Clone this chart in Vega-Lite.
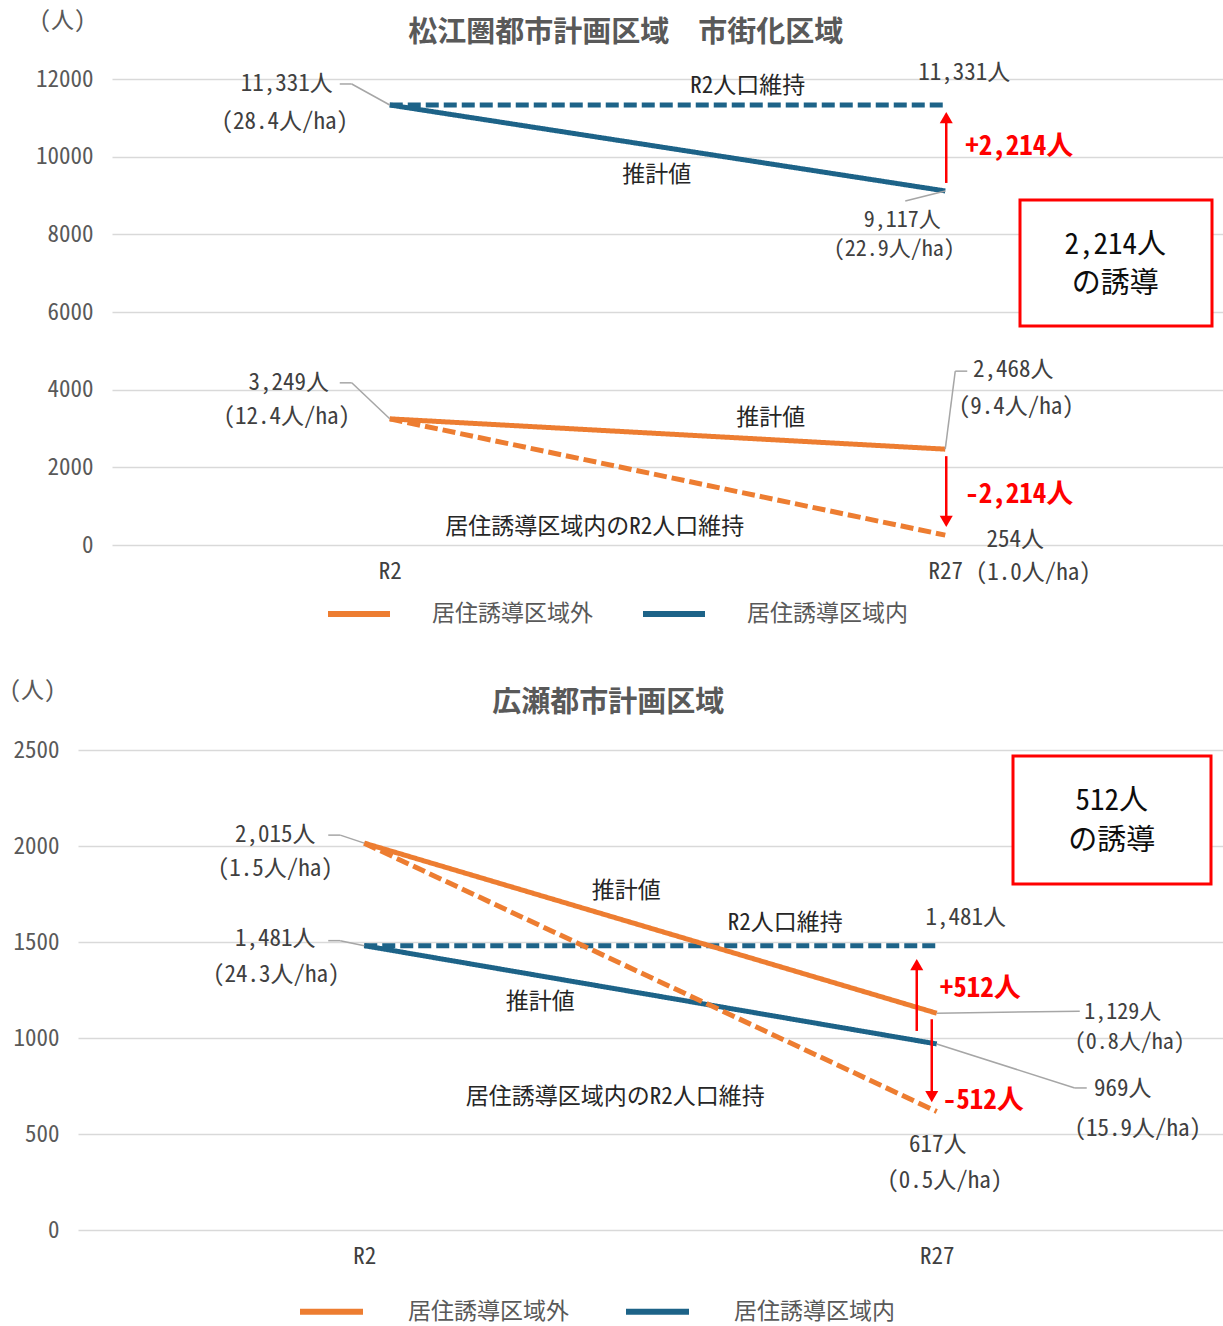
{
  "$schema": "https://vega.github.io/schema/vega-lite/v6.json",
  "background": "white",
  "padding": {"left": 9, "top": 9, "right": 0, "bottom": 10},
  "spacing": 53,
  "resolve": {"scale": {"color": "independent", "strokeDash": "independent"}, "legend": {"color": "independent", "strokeDash": "independent"}},
  "config": {
    "font": "Noto Sans CJK JP",
    "view": {"stroke": null},
    "text": {"font": "Noto Sans Mono CJK JP, Noto Sans CJK JP", "fontSize": 23, "color": "#404040"},
    "axis": {
      "labelFont": "Noto Sans Mono CJK JP, Noto Sans CJK JP",
      "titleFont": "Noto Sans Mono CJK JP, Noto Sans CJK JP",
      "labelFontSize": 23, "titleFontSize": 23,
      "labelColor": "#595959", "titleColor": "#595959", "titleFontWeight": "normal",
      "ticks": false, "domain": false, "gridColor": "#D9D9D9", "gridWidth": 1.5
    },
    "legend": {"labelFont": "Noto Sans Mono CJK JP, Noto Sans CJK JP", "labelFontSize": 23, "labelColor": "#595959", "labelLimit": 400}
  },
  "datasets": {
    "matsue": [
      {"zone": "居住誘導区域内", "scenario": "R2人口維持", "period": "R2", "value": 11331, "density": 28.4},
      {"zone": "居住誘導区域内", "scenario": "R2人口維持", "period": "R27", "value": 11331, "density": null},
      {"zone": "居住誘導区域内", "scenario": "推計値", "period": "R2", "value": 11331, "density": 28.4},
      {"zone": "居住誘導区域内", "scenario": "推計値", "period": "R27", "value": 9117, "density": 22.9},
      {"zone": "居住誘導区域外", "scenario": "R2人口維持", "period": "R2", "value": 3249, "density": 12.4},
      {"zone": "居住誘導区域外", "scenario": "R2人口維持", "period": "R27", "value": 254, "density": 1.0},
      {"zone": "居住誘導区域外", "scenario": "推計値", "period": "R2", "value": 3249, "density": 12.4},
      {"zone": "居住誘導区域外", "scenario": "推計値", "period": "R27", "value": 2468, "density": 9.4}
    ],
    "hirose": [
      {"zone": "居住誘導区域内", "scenario": "R2人口維持", "period": "R2", "value": 1481, "density": 24.3},
      {"zone": "居住誘導区域内", "scenario": "R2人口維持", "period": "R27", "value": 1481, "density": null},
      {"zone": "居住誘導区域内", "scenario": "推計値", "period": "R2", "value": 1481, "density": 24.3},
      {"zone": "居住誘導区域内", "scenario": "推計値", "period": "R27", "value": 969, "density": 15.9},
      {"zone": "居住誘導区域外", "scenario": "R2人口維持", "period": "R2", "value": 2015, "density": 1.5},
      {"zone": "居住誘導区域外", "scenario": "R2人口維持", "period": "R27", "value": 617, "density": 0.5},
      {"zone": "居住誘導区域外", "scenario": "推計値", "period": "R2", "value": 2015, "density": 1.5},
      {"zone": "居住誘導区域外", "scenario": "推計値", "period": "R27", "value": 1129, "density": 0.8}
    ]
  },
  "vconcat": [
    {
      "width": 1145,
      "height": 466,
      "data": {"name": "matsue"},
      "transform": [
        {"calculate": "format(datum.value, ',') + '人'", "as": "label"},
        {"calculate": "isValid(datum.density) ? '(' + format(datum.density, '.1f') + '人/ha)' : ''", "as": "dens"}
      ],
      "layer": [
        {
          "mark": {"type": "line", "strokeWidth": 5, "strokeCap": "butt"},
          "encoding": {
            "x": {"field": "period", "type": "ordinal",
                  "scale": {"type": "point", "domain": ["R2", "R27"], "padding": 0.5, "range": [34, 1145]},
                  "axis": {"title": null, "labelAngle": 0, "labelPadding": 15, "labelColor": "#404040", "grid": false}},
            "y": {"field": "value", "type": "quantitative",
                  "scale": {"domain": [0, 12000], "nice": false},
                  "axis": {"title": "(人)", "titleAngle": 0, "titleX": -50, "titleY": -59, "titleAlign": "center", "titleBaseline": "middle",
                           "values": [0, 2000, 4000, 6000, 8000, 10000, 12000], "format": "d", "offset": -34, "labelPadding": 19}},
            "color": {"field": "zone", "type": "nominal",
                      "scale": {"domain": ["居住誘導区域外", "居住誘導区域内"], "range": ["#ED7D31", "#1D6388"]},
                      "legend": {"title": null, "orient": "none", "legendX": 247, "legendY": 501, "direction": "horizontal",
                                 "symbolType": "stroke", "symbolSize": 3844, "symbolStrokeWidth": 6,
                                 "labelOffset": 39, "columnPadding": 38, "padding": 0}},
            "strokeDash": {"field": "scenario", "type": "nominal",
                           "scale": {"domain": ["推計値", "R2人口維持"], "range": [[1, 0], [13, 5]]}, "legend": null}
          }
        },
        {
          "data": {"values": [{}]},
          "mark": {"type": "text", "text": "松江圏都市計画区域　市街化区域", "dx": 236, "font": "Noto Sans CJK JP", "fontSize": 29, "fontWeight": "bold", "color": "#595959"},
          "encoding": {"x": {"datum": "R2", "type": "ordinal"}, "y": {"datum": 13185, "type": "quantitative"}}
        },
        {
          "transform": [{"filter": "datum.zone==='居住誘導区域内' && datum.scenario==='推計値' && datum.period==='R2'"}],
          "mark": {"type": "rule", "color": "#A6A6A6", "strokeWidth": 1.5, "x2Offset": -38, "y2Offset": -21},
          "encoding": {"x": {"field": "period", "type": "ordinal"}, "y": {"field": "value", "type": "quantitative"}, "x2": {"field": "period"}, "y2": {"field": "value"}}
        },
        {
          "transform": [{"filter": "datum.zone==='居住誘導区域内' && datum.scenario==='推計値' && datum.period==='R2'"}],
          "mark": {"type": "rule", "color": "#A6A6A6", "strokeWidth": 1.5, "xOffset": -38, "yOffset": -21, "x2Offset": -50, "y2Offset": -21},
          "encoding": {"x": {"field": "period", "type": "ordinal"}, "y": {"field": "value", "type": "quantitative"}, "x2": {"field": "period"}, "y2": {"field": "value"}}
        },
        {
          "transform": [{"filter": "datum.zone==='居住誘導区域内' && datum.scenario==='推計値' && datum.period==='R27'"}],
          "mark": {"type": "rule", "color": "#A6A6A6", "strokeWidth": 1.5, "x2Offset": -40, "y2Offset": 10},
          "encoding": {"x": {"field": "period", "type": "ordinal"}, "y": {"field": "value", "type": "quantitative"}, "x2": {"field": "period"}, "y2": {"field": "value"}}
        },
        {
          "transform": [{"filter": "datum.zone==='居住誘導区域外' && datum.scenario==='推計値' && datum.period==='R2'"}],
          "mark": {"type": "rule", "color": "#A6A6A6", "strokeWidth": 1.5, "x2Offset": -38, "y2Offset": -36},
          "encoding": {"x": {"field": "period", "type": "ordinal"}, "y": {"field": "value", "type": "quantitative"}, "x2": {"field": "period"}, "y2": {"field": "value"}}
        },
        {
          "transform": [{"filter": "datum.zone==='居住誘導区域外' && datum.scenario==='推計値' && datum.period==='R2'"}],
          "mark": {"type": "rule", "color": "#A6A6A6", "strokeWidth": 1.5, "xOffset": -38, "yOffset": -36, "x2Offset": -50, "y2Offset": -36},
          "encoding": {"x": {"field": "period", "type": "ordinal"}, "y": {"field": "value", "type": "quantitative"}, "x2": {"field": "period"}, "y2": {"field": "value"}}
        },
        {
          "transform": [{"filter": "datum.zone==='居住誘導区域外' && datum.scenario==='推計値' && datum.period==='R27'"}],
          "mark": {"type": "rule", "color": "#A6A6A6", "strokeWidth": 1.5, "x2Offset": 10, "y2Offset": -78},
          "encoding": {"x": {"field": "period", "type": "ordinal"}, "y": {"field": "value", "type": "quantitative"}, "x2": {"field": "period"}, "y2": {"field": "value"}}
        },
        {
          "transform": [{"filter": "datum.zone==='居住誘導区域外' && datum.scenario==='推計値' && datum.period==='R27'"}],
          "mark": {"type": "rule", "color": "#A6A6A6", "strokeWidth": 1.5, "xOffset": 10, "yOffset": -78, "x2Offset": 22, "y2Offset": -78},
          "encoding": {"x": {"field": "period", "type": "ordinal"}, "y": {"field": "value", "type": "quantitative"}, "x2": {"field": "period"}, "y2": {"field": "value"}}
        },
        {
          "transform": [{"filter": "datum.zone==='居住誘導区域内' && datum.scenario==='推計値' && datum.period==='R2'"}],
          "mark": {"type": "text", "dx": -103, "dy": -21},
          "encoding": {"x": {"field": "period", "type": "ordinal"}, "y": {"field": "value", "type": "quantitative"}, "text": {"field": "label"}}
        },
        {
          "transform": [{"filter": "datum.zone==='居住誘導区域内' && datum.scenario==='推計値' && datum.period==='R2'"}],
          "mark": {"type": "text", "dx": -105, "dy": 17},
          "encoding": {"x": {"field": "period", "type": "ordinal"}, "y": {"field": "value", "type": "quantitative"}, "text": {"field": "dens"}}
        },
        {
          "transform": [{"filter": "datum.zone==='居住誘導区域内' && datum.scenario==='R2人口維持' && datum.period==='R27'"}],
          "mark": {"type": "text", "dx": 19, "dy": -32},
          "encoding": {"x": {"field": "period", "type": "ordinal"}, "y": {"field": "value", "type": "quantitative"}, "text": {"field": "label"}}
        },
        {
          "transform": [{"filter": "datum.zone==='居住誘導区域内' && datum.scenario==='推計値' && datum.period==='R27'"}],
          "mark": {"type": "text", "dx": -43, "dy": 29, "fontSize": 22},
          "encoding": {"x": {"field": "period", "type": "ordinal"}, "y": {"field": "value", "type": "quantitative"}, "text": {"field": "label"}}
        },
        {
          "transform": [{"filter": "datum.zone==='居住誘導区域内' && datum.scenario==='推計値' && datum.period==='R27'"}],
          "mark": {"type": "text", "dx": -51, "dy": 58, "fontSize": 22},
          "encoding": {"x": {"field": "period", "type": "ordinal"}, "y": {"field": "value", "type": "quantitative"}, "text": {"field": "dens"}}
        },
        {
          "transform": [{"filter": "datum.zone==='居住誘導区域外' && datum.scenario==='推計値' && datum.period==='R2'"}],
          "mark": {"type": "text", "dx": -101, "dy": -36},
          "encoding": {"x": {"field": "period", "type": "ordinal"}, "y": {"field": "value", "type": "quantitative"}, "text": {"field": "label"}}
        },
        {
          "transform": [{"filter": "datum.zone==='居住誘導区域外' && datum.scenario==='推計値' && datum.period==='R2'"}],
          "mark": {"type": "text", "dx": -103, "dy": -2},
          "encoding": {"x": {"field": "period", "type": "ordinal"}, "y": {"field": "value", "type": "quantitative"}, "text": {"field": "dens"}}
        },
        {
          "transform": [{"filter": "datum.zone==='居住誘導区域外' && datum.scenario==='推計値' && datum.period==='R27'"}],
          "mark": {"type": "text", "dx": 68, "dy": -79},
          "encoding": {"x": {"field": "period", "type": "ordinal"}, "y": {"field": "value", "type": "quantitative"}, "text": {"field": "label"}}
        },
        {
          "transform": [{"filter": "datum.zone==='居住誘導区域外' && datum.scenario==='推計値' && datum.period==='R27'"}],
          "mark": {"type": "text", "dx": 71, "dy": -42},
          "encoding": {"x": {"field": "period", "type": "ordinal"}, "y": {"field": "value", "type": "quantitative"}, "text": {"field": "dens"}}
        },
        {
          "transform": [{"filter": "datum.zone==='居住誘導区域外' && datum.scenario==='R2人口維持' && datum.period==='R27'"}],
          "mark": {"type": "text", "dx": 70, "dy": 5},
          "encoding": {"x": {"field": "period", "type": "ordinal"}, "y": {"field": "value", "type": "quantitative"}, "text": {"field": "label"}}
        },
        {
          "transform": [{"filter": "datum.zone==='居住誘導区域外' && datum.scenario==='R2人口維持' && datum.period==='R27'"}],
          "mark": {"type": "text", "dx": 88, "dy": 38},
          "encoding": {"x": {"field": "period", "type": "ordinal"}, "y": {"field": "value", "type": "quantitative"}, "text": {"field": "dens"}}
        },
        {
          "data": {"values": [{}]},
          "mark": {"type": "text", "text": "R2人口維持", "dx": 358, "color": "#262626"},
          "encoding": {"x": {"datum": "R2", "type": "ordinal"}, "y": {"datum": 11820, "type": "quantitative"}}
        },
        {
          "data": {"values": [{}]},
          "mark": {"type": "text", "text": "推計値", "dx": 267, "color": "#262626"},
          "encoding": {"x": {"datum": "R2", "type": "ordinal"}, "y": {"datum": 9528, "type": "quantitative"}}
        },
        {
          "data": {"values": [{}]},
          "mark": {"type": "text", "text": "推計値", "dx": 381, "color": "#262626"},
          "encoding": {"x": {"datum": "R2", "type": "ordinal"}, "y": {"datum": 3270, "type": "quantitative"}}
        },
        {
          "data": {"values": [{}]},
          "mark": {"type": "text", "text": "居住誘導区域内のR2人口維持", "dx": 205, "color": "#262626"},
          "encoding": {"x": {"datum": "R2", "type": "ordinal"}, "y": {"datum": 464, "type": "quantitative"}}
        },
        {
          "data": {"values": [{}]},
          "mark": {"type": "text", "text": "+2,214人", "dx": 20, "align": "left", "fontSize": 27, "fontWeight": "bold", "color": "#FF0000"},
          "encoding": {"x": {"datum": "R27", "type": "ordinal"}, "y": {"datum": 10249, "type": "quantitative"}}
        },
        {
          "data": {"values": [{}]},
          "mark": {"type": "text", "text": "-2,214人", "dx": 20, "align": "left", "fontSize": 27, "fontWeight": "bold", "color": "#FF0000"},
          "encoding": {"x": {"datum": "R27", "type": "ordinal"}, "y": {"datum": 1288, "type": "quantitative"}}
        },
        {
          "data": {"values": [{}]},
          "mark": {"type": "rule", "color": "#FF0000", "strokeWidth": 2.5, "xOffset": 1, "yOffset": -8, "y2Offset": 13},
          "encoding": {"x": {"datum": "R27", "type": "ordinal"}, "y": {"datum": 9117, "type": "quantitative"}, "y2": {"datum": 11331}}
        },
        {
          "data": {"values": [{}]},
          "mark": {"type": "point", "shape": "triangle-up", "size": 170, "filled": true, "color": "#FF0000", "opacity": 1, "xOffset": 1, "yOffset": 12.7},
          "encoding": {"x": {"datum": "R27", "type": "ordinal"}, "y": {"datum": 11331, "type": "quantitative"}}
        },
        {
          "data": {"values": [{}]},
          "mark": {"type": "rule", "color": "#FF0000", "strokeWidth": 2.5, "xOffset": 1, "yOffset": 7, "y2Offset": -14},
          "encoding": {"x": {"datum": "R27", "type": "ordinal"}, "y": {"datum": 2468, "type": "quantitative"}, "y2": {"datum": 254}}
        },
        {
          "data": {"values": [{}]},
          "mark": {"type": "point", "shape": "triangle-down", "size": 170, "filled": true, "color": "#FF0000", "opacity": 1, "xOffset": 1, "yOffset": -13.8},
          "encoding": {"x": {"datum": "R27", "type": "ordinal"}, "y": {"datum": 254, "type": "quantitative"}}
        },
        {
          "data": {"values": [{}]},
          "mark": {"type": "point", "shape": "M-1,-0.656H1V0.656H-1Z", "size": 36864, "filled": false, "fill": "white", "fillOpacity": 1, "stroke": "#FF0000", "strokeWidth": 3, "opacity": 1, "xOffset": 170.75},
          "encoding": {"x": {"datum": "R27", "type": "ordinal"}, "y": {"datum": 7262, "type": "quantitative"}}
        },
        {
          "data": {"values": [{}]},
          "mark": {"type": "text", "text": "2,214人", "dx": 170, "fontSize": 29, "color": "#0D0D0D"},
          "encoding": {"x": {"datum": "R27", "type": "ordinal"}, "y": {"datum": 7725, "type": "quantitative"}}
        },
        {
          "data": {"values": [{}]},
          "mark": {"type": "text", "text": "の誘導", "dx": 170, "fontSize": 29, "color": "#0D0D0D"},
          "encoding": {"x": {"datum": "R27", "type": "ordinal"}, "y": {"datum": 6721, "type": "quantitative"}}
        }
      ]
    },
    {
      "width": 1145,
      "height": 480,
      "data": {"name": "hirose"},
      "transform": [
        {"calculate": "format(datum.value, ',') + '人'", "as": "label"},
        {"calculate": "isValid(datum.density) ? '(' + format(datum.density, '.1f') + '人/ha)' : ''", "as": "dens"}
      ],
      "layer": [
        {
          "mark": {"type": "line", "strokeWidth": 5, "strokeCap": "butt"},
          "encoding": {
            "x": {"field": "period", "type": "ordinal",
                  "scale": {"type": "point", "domain": ["R2", "R27"], "padding": 0.5},
                  "axis": {"title": null, "labelAngle": 0, "labelPadding": 15, "labelColor": "#404040", "grid": false}},
            "y": {"field": "value", "type": "quantitative",
                  "scale": {"domain": [0, 2500], "nice": false},
                  "axis": {"title": "(人)", "titleAngle": 0, "titleX": -46, "titleY": -60, "titleAlign": "center", "titleBaseline": "middle",
                           "values": [0, 500, 1000, 1500, 2000, 2500], "format": "d", "labelPadding": 19}},
            "color": {"field": "zone", "type": "nominal",
                      "scale": {"domain": ["居住誘導区域外", "居住誘導区域内"], "range": ["#ED7D31", "#1D6388"]},
                      "legend": {"title": null, "orient": "none", "legendX": 219, "legendY": 527, "direction": "horizontal",
                                 "symbolType": "stroke", "symbolSize": 3969, "symbolStrokeWidth": 6,
                                 "labelOffset": 42, "columnPadding": 45, "padding": 0}},
            "strokeDash": {"field": "scenario", "type": "nominal",
                           "scale": {"domain": ["推計値", "R2人口維持"], "range": [[1, 0], [13, 5]]}, "legend": null}
          }
        },
        {
          "data": {"values": [{}]},
          "mark": {"type": "text", "text": "広瀬都市計画区域", "dx": 244, "font": "Noto Sans CJK JP", "fontSize": 29, "fontWeight": "bold", "color": "#595959"},
          "encoding": {"x": {"datum": "R2", "type": "ordinal"}, "y": {"datum": 2745, "type": "quantitative"}}
        },
        {
          "transform": [{"filter": "datum.zone==='居住誘導区域外' && datum.scenario==='推計値' && datum.period==='R2'"}],
          "mark": {"type": "rule", "color": "#A6A6A6", "strokeWidth": 1.5, "x2Offset": -24, "y2Offset": -8},
          "encoding": {"x": {"field": "period", "type": "ordinal"}, "y": {"field": "value", "type": "quantitative"}, "x2": {"field": "period"}, "y2": {"field": "value"}}
        },
        {
          "transform": [{"filter": "datum.zone==='居住誘導区域外' && datum.scenario==='推計値' && datum.period==='R2'"}],
          "mark": {"type": "rule", "color": "#A6A6A6", "strokeWidth": 1.5, "xOffset": -24, "yOffset": -8, "x2Offset": -36, "y2Offset": -8},
          "encoding": {"x": {"field": "period", "type": "ordinal"}, "y": {"field": "value", "type": "quantitative"}, "x2": {"field": "period"}, "y2": {"field": "value"}}
        },
        {
          "transform": [{"filter": "datum.zone==='居住誘導区域内' && datum.scenario==='推計値' && datum.period==='R2'"}],
          "mark": {"type": "rule", "color": "#A6A6A6", "strokeWidth": 1.5, "x2Offset": -24, "y2Offset": -5},
          "encoding": {"x": {"field": "period", "type": "ordinal"}, "y": {"field": "value", "type": "quantitative"}, "x2": {"field": "period"}, "y2": {"field": "value"}}
        },
        {
          "transform": [{"filter": "datum.zone==='居住誘導区域内' && datum.scenario==='推計値' && datum.period==='R2'"}],
          "mark": {"type": "rule", "color": "#A6A6A6", "strokeWidth": 1.5, "xOffset": -24, "yOffset": -5, "x2Offset": -36, "y2Offset": -5},
          "encoding": {"x": {"field": "period", "type": "ordinal"}, "y": {"field": "value", "type": "quantitative"}, "x2": {"field": "period"}, "y2": {"field": "value"}}
        },
        {
          "transform": [{"filter": "datum.zone==='居住誘導区域外' && datum.scenario==='推計値' && datum.period==='R27'"}],
          "mark": {"type": "rule", "color": "#A6A6A6", "strokeWidth": 1.5, "x2Offset": 143, "y2Offset": -2},
          "encoding": {"x": {"field": "period", "type": "ordinal"}, "y": {"field": "value", "type": "quantitative"}, "x2": {"field": "period"}, "y2": {"field": "value"}}
        },
        {
          "transform": [{"filter": "datum.zone==='居住誘導区域内' && datum.scenario==='推計値' && datum.period==='R27'"}],
          "mark": {"type": "rule", "color": "#A6A6A6", "strokeWidth": 1.5, "x2Offset": 138, "y2Offset": 44},
          "encoding": {"x": {"field": "period", "type": "ordinal"}, "y": {"field": "value", "type": "quantitative"}, "x2": {"field": "period"}, "y2": {"field": "value"}}
        },
        {
          "transform": [{"filter": "datum.zone==='居住誘導区域内' && datum.scenario==='推計値' && datum.period==='R27'"}],
          "mark": {"type": "rule", "color": "#A6A6A6", "strokeWidth": 1.5, "xOffset": 138, "yOffset": 44, "x2Offset": 150, "y2Offset": 44},
          "encoding": {"x": {"field": "period", "type": "ordinal"}, "y": {"field": "value", "type": "quantitative"}, "x2": {"field": "period"}, "y2": {"field": "value"}}
        },
        {
          "transform": [{"filter": "datum.zone==='居住誘導区域外' && datum.scenario==='推計値' && datum.period==='R2'"}],
          "mark": {"type": "text", "dx": -89, "dy": -8},
          "encoding": {"x": {"field": "period", "type": "ordinal"}, "y": {"field": "value", "type": "quantitative"}, "text": {"field": "label"}}
        },
        {
          "transform": [{"filter": "datum.zone==='居住誘導区域外' && datum.scenario==='推計値' && datum.period==='R2'"}],
          "mark": {"type": "text", "dx": -89, "dy": 26},
          "encoding": {"x": {"field": "period", "type": "ordinal"}, "y": {"field": "value", "type": "quantitative"}, "text": {"field": "dens"}}
        },
        {
          "transform": [{"filter": "datum.zone==='居住誘導区域内' && datum.scenario==='推計値' && datum.period==='R2'"}],
          "mark": {"type": "text", "dx": -89, "dy": -7},
          "encoding": {"x": {"field": "period", "type": "ordinal"}, "y": {"field": "value", "type": "quantitative"}, "text": {"field": "label"}}
        },
        {
          "transform": [{"filter": "datum.zone==='居住誘導区域内' && datum.scenario==='推計値' && datum.period==='R2'"}],
          "mark": {"type": "text", "dx": -88, "dy": 29},
          "encoding": {"x": {"field": "period", "type": "ordinal"}, "y": {"field": "value", "type": "quantitative"}, "text": {"field": "dens"}}
        },
        {
          "transform": [{"filter": "datum.zone==='居住誘導区域内' && datum.scenario==='R2人口維持' && datum.period==='R27'"}],
          "mark": {"type": "text", "dx": 29, "dy": -28},
          "encoding": {"x": {"field": "period", "type": "ordinal"}, "y": {"field": "value", "type": "quantitative"}, "text": {"field": "label"}}
        },
        {
          "transform": [{"filter": "datum.zone==='居住誘導区域外' && datum.scenario==='推計値' && datum.period==='R27'"}],
          "mark": {"type": "text", "dx": 186, "dy": -1, "fontSize": 22},
          "encoding": {"x": {"field": "period", "type": "ordinal"}, "y": {"field": "value", "type": "quantitative"}, "text": {"field": "label"}}
        },
        {
          "transform": [{"filter": "datum.zone==='居住誘導区域外' && datum.scenario==='推計値' && datum.period==='R27'"}],
          "mark": {"type": "text", "dx": 193, "dy": 29, "fontSize": 22},
          "encoding": {"x": {"field": "period", "type": "ordinal"}, "y": {"field": "value", "type": "quantitative"}, "text": {"field": "dens"}}
        },
        {
          "transform": [{"filter": "datum.zone==='居住誘導区域内' && datum.scenario==='推計値' && datum.period==='R27'"}],
          "mark": {"type": "text", "dx": 186, "dy": 45},
          "encoding": {"x": {"field": "period", "type": "ordinal"}, "y": {"field": "value", "type": "quantitative"}, "text": {"field": "label"}}
        },
        {
          "transform": [{"filter": "datum.zone==='居住誘導区域内' && datum.scenario==='推計値' && datum.period==='R27'"}],
          "mark": {"type": "text", "dx": 201, "dy": 85},
          "encoding": {"x": {"field": "period", "type": "ordinal"}, "y": {"field": "value", "type": "quantitative"}, "text": {"field": "dens"}}
        },
        {
          "transform": [{"filter": "datum.zone==='居住誘導区域外' && datum.scenario==='R2人口維持' && datum.period==='R27'"}],
          "mark": {"type": "text", "dx": 1, "dy": 33},
          "encoding": {"x": {"field": "period", "type": "ordinal"}, "y": {"field": "value", "type": "quantitative"}, "text": {"field": "label"}}
        },
        {
          "transform": [{"filter": "datum.zone==='居住誘導区域外' && datum.scenario==='R2人口維持' && datum.period==='R27'"}],
          "mark": {"type": "text", "dx": 8, "dy": 69},
          "encoding": {"x": {"field": "period", "type": "ordinal"}, "y": {"field": "value", "type": "quantitative"}, "text": {"field": "dens"}}
        },
        {
          "data": {"values": [{}]},
          "mark": {"type": "text", "text": "推計値", "dx": 262, "color": "#262626"},
          "encoding": {"x": {"datum": "R2", "type": "ordinal"}, "y": {"datum": 1766, "type": "quantitative"}}
        },
        {
          "data": {"values": [{}]},
          "mark": {"type": "text", "text": "R2人口維持", "dx": 421, "color": "#262626"},
          "encoding": {"x": {"datum": "R2", "type": "ordinal"}, "y": {"datum": 1599, "type": "quantitative"}}
        },
        {
          "data": {"values": [{}]},
          "mark": {"type": "text", "text": "推計値", "dx": 176, "color": "#262626"},
          "encoding": {"x": {"datum": "R2", "type": "ordinal"}, "y": {"datum": 1188, "type": "quantitative"}}
        },
        {
          "data": {"values": [{}]},
          "mark": {"type": "text", "text": "居住誘導区域内のR2人口維持", "dx": 251, "color": "#262626"},
          "encoding": {"x": {"datum": "R2", "type": "ordinal"}, "y": {"datum": 693, "type": "quantitative"}}
        },
        {
          "data": {"values": [{}]},
          "mark": {"type": "text", "text": "+512人", "dx": 3, "align": "left", "fontSize": 27, "fontWeight": "bold", "color": "#FF0000"},
          "encoding": {"x": {"datum": "R27", "type": "ordinal"}, "y": {"datum": 1255, "type": "quantitative"}}
        },
        {
          "data": {"values": [{}]},
          "mark": {"type": "text", "text": "-512人", "dx": 6, "align": "left", "fontSize": 27, "fontWeight": "bold", "color": "#FF0000"},
          "encoding": {"x": {"datum": "R27", "type": "ordinal"}, "y": {"datum": 672, "type": "quantitative"}}
        },
        {
          "data": {"values": [{}]},
          "mark": {"type": "rule", "color": "#FF0000", "strokeWidth": 2.5, "xOffset": -20, "yOffset": -13, "y2Offset": 19},
          "encoding": {"x": {"datum": "R27", "type": "ordinal"}, "y": {"datum": 969, "type": "quantitative"}, "y2": {"datum": 1481}}
        },
        {
          "data": {"values": [{}]},
          "mark": {"type": "point", "shape": "triangle-up", "size": 170, "filled": true, "color": "#FF0000", "opacity": 1, "xOffset": -20, "yOffset": 19},
          "encoding": {"x": {"datum": "R27", "type": "ordinal"}, "y": {"datum": 1481, "type": "quantitative"}}
        },
        {
          "data": {"values": [{}]},
          "mark": {"type": "rule", "color": "#FF0000", "strokeWidth": 2.5, "xOffset": -5, "yOffset": 6, "y2Offset": -15},
          "encoding": {"x": {"datum": "R27", "type": "ordinal"}, "y": {"datum": 1129, "type": "quantitative"}, "y2": {"datum": 617}}
        },
        {
          "data": {"values": [{}]},
          "mark": {"type": "point", "shape": "triangle-down", "size": 170, "filled": true, "color": "#FF0000", "opacity": 1, "xOffset": -5, "yOffset": -15},
          "encoding": {"x": {"datum": "R27", "type": "ordinal"}, "y": {"datum": 617, "type": "quantitative"}}
        },
        {
          "data": {"values": [{}]},
          "mark": {"type": "point", "shape": "M-1,-0.6465H1V0.6465H-1Z", "size": 39204, "filled": false, "fill": "white", "fillOpacity": 1, "stroke": "#FF0000", "strokeWidth": 3, "opacity": 1, "xOffset": 175.25},
          "encoding": {"x": {"datum": "R27", "type": "ordinal"}, "y": {"datum": 2135, "type": "quantitative"}}
        },
        {
          "data": {"values": [{}]},
          "mark": {"type": "text", "text": "512人", "dx": 175, "fontSize": 29, "color": "#0D0D0D"},
          "encoding": {"x": {"datum": "R27", "type": "ordinal"}, "y": {"datum": 2234, "type": "quantitative"}}
        },
        {
          "data": {"values": [{}]},
          "mark": {"type": "text", "text": "の誘導", "dx": 175, "fontSize": 29, "color": "#0D0D0D"},
          "encoding": {"x": {"datum": "R27", "type": "ordinal"}, "y": {"datum": 2026, "type": "quantitative"}}
        }
      ]
    }
  ]
}
